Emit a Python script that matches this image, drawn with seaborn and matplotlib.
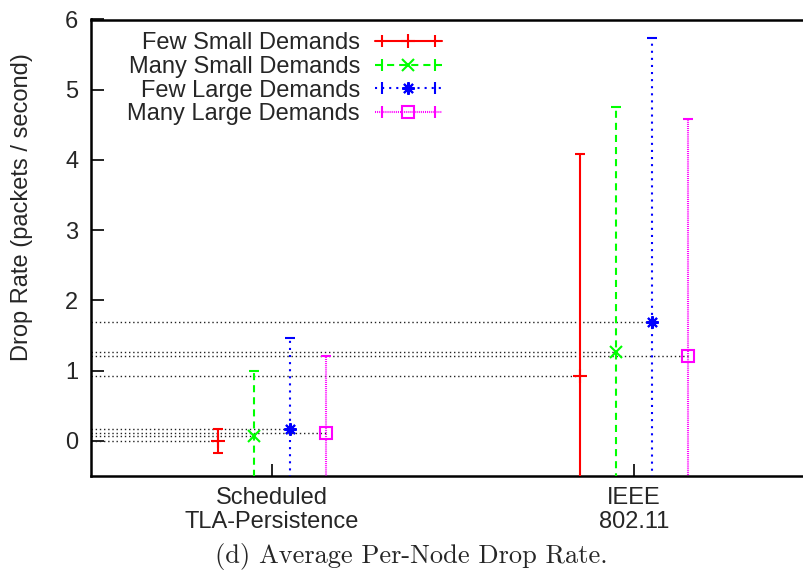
import numpy as np
import pandas as pd
import matplotlib
matplotlib.use("Agg")
import matplotlib.pyplot as plt
import seaborn as sns
from matplotlib.lines import Line2D
from matplotlib.legend_handler import HandlerLine2D, HandlerTuple

# ---- data ----
groups = ["Scheduled\nTLA-Persistence", "IEEE\n802.11"]
series = ["Few Small Demands", "Many Small Demands", "Few Large Demands", "Many Large Demands"]
few_small_mean = [0.00, 0.93]
few_small_err = [0.17, 3.15]
many_small_mean = [0.07, 1.27]
many_small_err = [0.93, 3.48]
few_large_mean = [0.17, 1.69]
few_large_err = [1.30, 4.05]
many_large_mean = [0.11, 1.21]
many_large_err = [1.10, 3.37]
yticks = [0, 1, 2, 3, 4, 5, 6]

means = [few_small_mean, many_small_mean, few_large_mean, many_large_mean]
errs = [few_small_err, many_small_err, few_large_err, many_large_err]

# ---- style ----
sns.set_theme(style="ticks")
plt.rcParams['font.family'] = ['Liberation Sans', 'DejaVu Sans']

colors = ["#ff0000", "#00ff00", "#0000ff", "#ff00ff"]
dashes = [None, (3.4, 2.4), (1.0, 2.4), (0.5, 0.5)]
markers = ["+", "x", (8, 2, 0), "s"]
msizes = [10, 8, 9, 9]
offsets = [-0.15, -0.05, 0.05, 0.15]
lw = 1.5
fs = 17

fig = plt.figure(figsize=(8.04, 5.76), dpi=100)
ax = fig.add_axes([91 / 804, (576 - 476) / 576, (815 - 91) / 804, (476 - 19.5) / 576])

xbase = np.arange(1, len(groups) + 1)

# reference dotted lines from the y axis to each mean
for m, off in zip(means, offsets):
    for xb, mv in zip(xbase, m):
        ax.hlines(mv, 0.5, xb + off, colors="#222222", linewidth=1.0,
                  linestyles=(0, (1, 2.0)), zorder=1)

handles = []
for i, (name, m, e) in enumerate(zip(series, means, errs)):
    x = xbase + offsets[i]
    eb = ax.errorbar(x, m, yerr=e, fmt="none", ecolor=colors[i], elinewidth=lw,
                     capsize=3.8, capthick=lw, zorder=3)
    if dashes[i] is not None:
        eb[2][0].set_linestyle((0, dashes[i]))
    mk = markers[i]
    ax.plot(x, m, linestyle="none", marker=mk, markersize=msizes[i],
            markeredgewidth=lw, color=colors[i],
            markerfacecolor="none" if mk == "s" else colors[i], zorder=4)
    ls = "-" if dashes[i] is None else (0, dashes[i])
    main = Line2D([], [], color=colors[i], linewidth=lw, linestyle=ls, marker=mk,
                  markersize=msizes[i], markeredgewidth=lw,
                  markerfacecolor="none" if mk == "s" else colors[i])
    caps = Line2D([], [], color=colors[i], linestyle="none", marker="|",
                  markersize=8, markeredgewidth=lw)
    handles.append((main, caps))

ax.set_xlim(0.5, 2.5)
ax.set_ylim(-0.5, 6)
ax.set_xticks(xbase)
ax.set_xticklabels(groups, fontsize=fs, linespacing=1.14)
ax.set_yticks(yticks)
ax.set_yticklabels([str(t) for t in yticks], fontsize=fs)
ax.tick_params(axis="both", direction="in", length=9, width=1.2, color="black",
               top=False, right=False)
ax.tick_params(axis="y", pad=9)
ax.tick_params(axis="x", pad=8)
for s in ax.spines.values():
    s.set_linewidth(1.8)
    s.set_color("black")

fig.text(22 / 804, 1 - 207 / 576, "Drop Rate (packets / second)", rotation=90,
         ha="center", va="center", fontsize=fs)

hm = {}
for h in handles:
    hm[h[1]] = HandlerLine2D(numpoints=2)
leg = ax.legend([h for h in handles], series, loc="upper right",
                bbox_to_anchor=((442 - 91) / 724, 0.972), frameon=False,
                markerfirst=False, fontsize=fs, handlelength=2.85, handletextpad=0.62,
                labelspacing=0.07, borderaxespad=0, borderpad=0, numpoints=1,
                handler_map={tuple: HandlerTuple(ndivide=1), **hm})
for t in leg.get_texts():
    t.set_ha("right")

fig.text(411 / 804, 1 - 557 / 576, "(d) Average Per-Node Drop Rate.",
         family="cmr10", fontsize=19, ha="center", va="center")

fig.savefig("out.png", dpi=100)
